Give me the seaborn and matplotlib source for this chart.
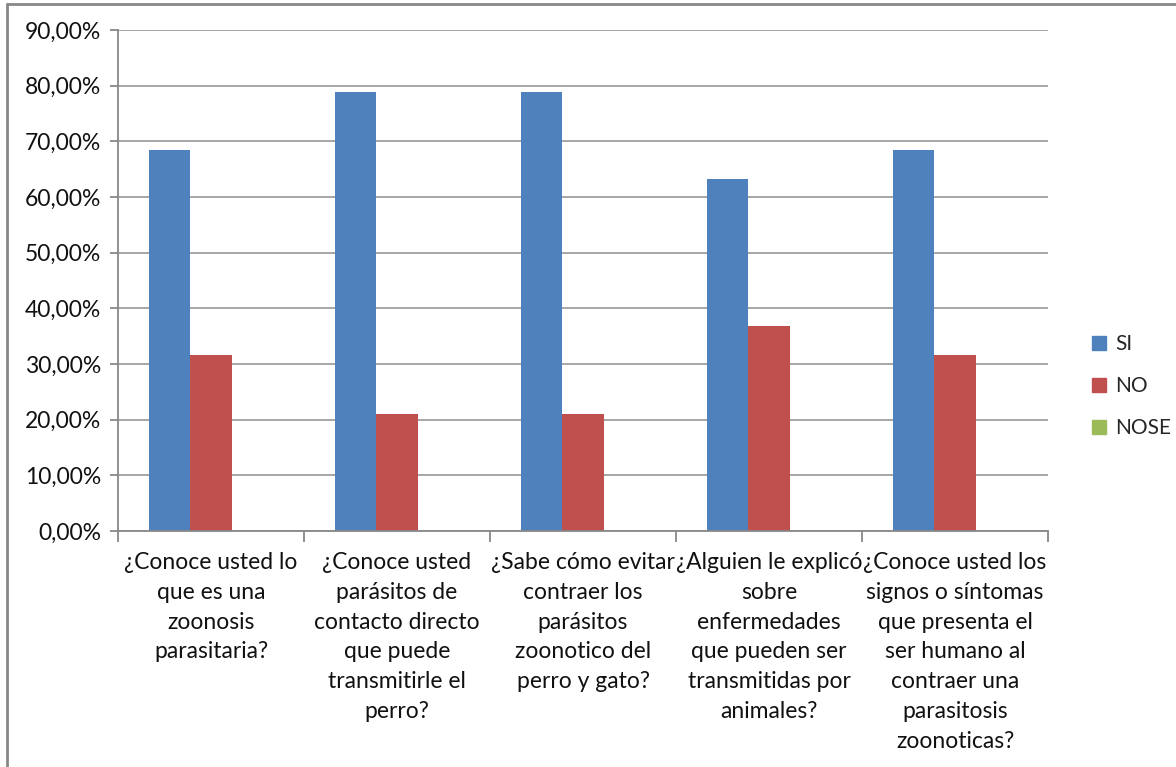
import matplotlib
matplotlib.use("Agg")
import matplotlib.pyplot as plt
from matplotlib.ticker import FuncFormatter, FixedLocator
from matplotlib.lines import Line2D
import pandas as pd
import seaborn as sns

questions = [
    "¿Conoce usted lo\nque es una\nzoonosis\nparasitaria?",
    "¿Conoce usted\nparásitos de\ncontacto directo\nque puede\ntransmitirle el\nperro?",
    "¿Sabe cómo evitar\ncontraer los\nparásitos\nzoonotico del\nperro y gato?",
    "¿Alguien le explicó\nsobre\nenfermedades\nque pueden ser\ntransmitidas por\nanimales?",
    "¿Conoce usted los\nsignos o síntomas\nque presenta el\nser humano al\ncontraer una\nparasitosis\nzoonoticas?",
]
answers = ["SI", "NO", "NOSE"]
si_pct = [68.42, 78.95, 78.95, 63.16, 68.42]
no_pct = [31.58, 21.05, 21.05, 36.84, 31.58]
nose_pct = [0.0, 0.0, 0.0, 0.0, 0.0]
palette = {"SI": "#4F81BD", "NO": "#C0504D", "NOSE": "#9BBB59"}

rows = []
for q, s, n, ns in zip(questions, si_pct, no_pct, nose_pct):
    rows += [(q, "SI", s), (q, "NO", n), (q, "NOSE", ns)]
df = pd.DataFrame(rows, columns=["pregunta", "respuesta", "porcentaje"])

sns.set_style("white")
plt.rcParams["font.family"] = ["Lato", "DejaVu Sans"]

fig = plt.figure(figsize=(11.76, 7.67), dpi=100)
ax = fig.add_axes([118 / 1176, 1 - 531 / 767, (1048 - 118) / 1176, (531 - 30) / 767])

sns.barplot(data=df, x="pregunta", y="porcentaje", hue="respuesta",
            hue_order=answers, order=questions, palette=palette,
            width=0.67, gap=0, saturation=1, errorbar=None, ax=ax,
            edgecolor="none", linewidth=0, legend=False)

ax.set_ylim(0, 90)
ax.set_xlim(-0.5, len(questions) - 0.5)
ax.yaxis.set_major_locator(FixedLocator(range(0, 91, 10)))
ax.yaxis.set_major_formatter(FuncFormatter(lambda v, p: f"{v:.2f}%".replace(".", ",")))
ax.grid(axis="y", color="#a6a6a6", linewidth=1.4)
ax.set_axisbelow(True)

for side in ("top", "right"):
    ax.spines[side].set_visible(False)
for side in ("left", "bottom"):
    ax.spines[side].set_color("#888888")
    ax.spines[side].set_linewidth(1.3)

ax.set_xlabel("")
ax.set_ylabel("")
ax.tick_params(axis="y", length=6, width=1.3, color="#888888", labelsize=16.5,
               labelcolor="#111111", pad=6, direction="out", left=True)
ax.set_xticks(range(len(questions)))
ax.set_xticklabels(questions, fontsize=16.5, color="#111111", linespacing=1.52,
                   ha="center", va="top")
ax.tick_params(axis="x", which="major", length=0, pad=15)
ax.set_xticks([i - 0.5 for i in range(len(questions) + 1)], minor=True)
ax.tick_params(axis="x", which="minor", length=8, width=1.3, color="#888888",
               direction="out", bottom=True)

handles = [Line2D([0], [0], marker="s", linestyle="none", markersize=10,
                  markerfacecolor=palette[a], markeredgecolor=palette[a])
           for a in answers]
fig.legend(handles, answers, loc="center left",
           bbox_to_anchor=(1080 / 1176, 1 - 386 / 767), frameon=False,
           fontsize=15, labelspacing=1.05, handletextpad=0.3,
           handlelength=1.0, borderaxespad=0)

# outer frame of the chart area
fig.add_artist(Line2D([7 / 1176, 1], [1 - 4 / 767, 1 - 4 / 767],
                      transform=fig.transFigure, color="#888888", linewidth=2))
fig.add_artist(Line2D([7 / 1176, 7 / 1176], [0, 1 - 4 / 767],
                      transform=fig.transFigure, color="#888888", linewidth=2))

fig.savefig("out.png", dpi=100)
